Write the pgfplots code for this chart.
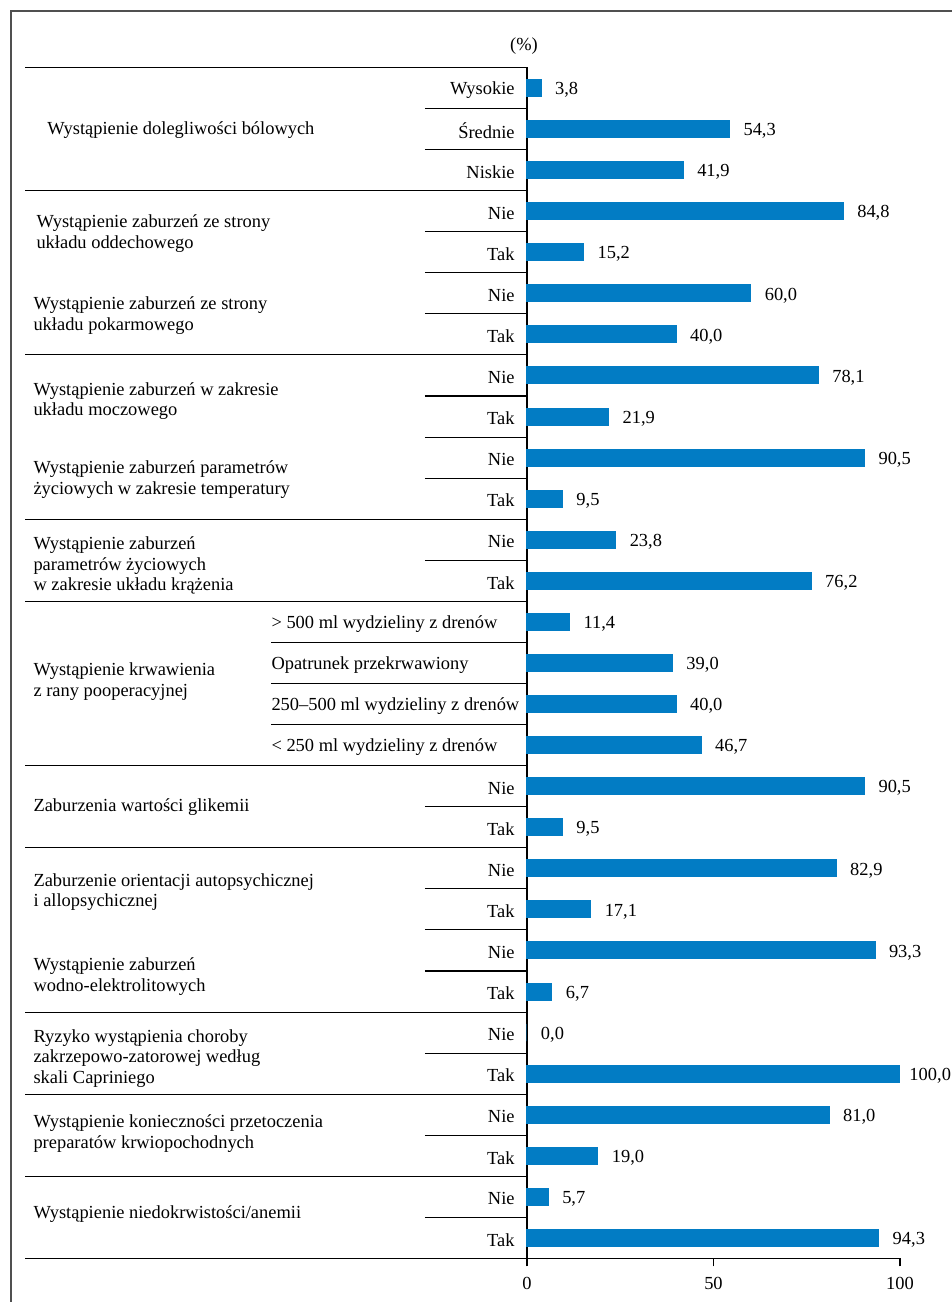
\documentclass[border=0pt]{standalone}
\usepackage{fontspec}
\setmainfont{Liberation Serif}
\usepackage{pgfplots}
\usepackage{pgfplotstable}
\pgfplotsset{compat=1.18}
\definecolor{barblue}{RGB}{2,124,196}
\definecolor{framegray}{RGB}{80,80,80}

\pgfplotstableread{
row val dx
0 3.8 6.75
1 54.3 6.75
2 41.9 6.75
3 84.8 6.75
4 15.2 6.75
5 60.0 6.75
6 40.0 6.75
7 78.1 6.75
8 21.9 6.75
9 90.5 6.75
10 9.5 6.75
11 23.8 6.75
12 76.2 6.75
13 11.4 6.75
14 39.0 6.75
15 40.0 6.75
16 46.7 6.75
17 90.5 6.75
18 9.5 6.75
19 82.9 6.75
20 17.1 6.75
21 93.3 6.75
22 6.7 6.75
23 0.0 6.75
24 100.0 4.5
25 81.0 6.75
26 19.0 6.75
27 5.7 6.75
28 94.3 6.75
}\datatable

\begin{document}
\begin{tikzpicture}[font=\fontsize{9.25pt}{10.3pt}\selectfont]
\begin{axis}[
  scale only axis, width=186.5bp, height=595.5bp,
  xmin=0, xmax=100, ymin=-28.5, ymax=0.5,
  xbar, bar width=8.5bp,
  axis x line*=bottom, axis y line*=left,
  axis line style={-, black, line width=0.55bp},
  ytick=\empty, xtick={0,50,100},
  tick align=outside, major tick length=4bp,
  tick style={black, line width=0.55bp},
  /pgf/number format/assume math mode=true,
  xticklabel style={yshift=-2bp},
  clip=false,
  point meta=x,
  visualization depends on={\thisrow{dx} \as \dx},
  nodes near coords={\pgfmathprintnumber[fixed,fixed zerofill,precision=1,use comma,assume math mode=true]{\pgfplotspointmeta}},
  nodes near coords style={anchor=west, inner sep=0pt, xshift=\dx bp, yshift=-1bp, black},
]
\addplot[fill=barblue, draw=barblue, line width=0.5bp] table[x=val, y expr=-\thisrow{row}] {\datatable};

% frame
\draw[framegray, line width=1bp] (axis cs:-138.34,-30) -- (axis cs:-138.34,1.875) -- (axis cs:120,1.875);

% long separators
\pgfplotsinvokeforeach{0.5,-2.5,-6.5,-10.5,-12.5,-16.5,-18.5,-22.5,-24.5,-26.5,-28.5}{
  \draw[black, line width=0.55bp] (axis cs:-134.58,#1) -- (axis cs:0,#1);
}
% short separators
\pgfplotsinvokeforeach{-0.5,-1.5,-3.5,-4.5,-5.5,-7.5,-8.5,-9.5,-11.5,-17.5,-19.5,-20.5,-21.5,-23.5,-25.5,-27.5}{
  \draw[black, line width=0.55bp] (axis cs:-27.35,#1) -- (axis cs:0,#1);
}
% bleeding separators
\pgfplotsinvokeforeach{-13.5,-14.5,-15.5}{
  \draw[black, line width=0.55bp] (axis cs:-68.6,#1) -- (axis cs:0,#1);
}

% unit
\node[yshift=-1bp] at (axis cs:-0.8,1.071) {(\%)};

% sub labels
\begin{scope}[every node/.style={anchor=east, inner sep=0pt, yshift=-1bp}]
\node at (axis cs:-3.22,0) {Wysokie};
\node at (axis cs:-3.22,-1) {Średnie};
\node at (axis cs:-3.22,-2) {Niskie};
\node at (axis cs:-3.22,-3) {Nie};
\node at (axis cs:-3.22,-4) {Tak};
\node at (axis cs:-3.22,-5) {Nie};
\node at (axis cs:-3.22,-6) {Tak};
\node at (axis cs:-3.22,-7) {Nie};
\node at (axis cs:-3.22,-8) {Tak};
\node at (axis cs:-3.22,-9) {Nie};
\node at (axis cs:-3.22,-10) {Tak};
\node at (axis cs:-3.22,-11) {Nie};
\node at (axis cs:-3.22,-12) {Tak};
\node at (axis cs:-3.22,-17) {Nie};
\node at (axis cs:-3.22,-18) {Tak};
\node at (axis cs:-3.22,-19) {Nie};
\node at (axis cs:-3.22,-20) {Tak};
\node at (axis cs:-3.22,-21) {Nie};
\node at (axis cs:-3.22,-22) {Tak};
\node at (axis cs:-3.22,-23) {Nie};
\node at (axis cs:-3.22,-24) {Tak};
\node at (axis cs:-3.22,-25) {Nie};
\node at (axis cs:-3.22,-26) {Tak};
\node at (axis cs:-3.22,-27) {Nie};
\node at (axis cs:-3.22,-28) {Tak};
\end{scope}

\begin{scope}[every node/.style={anchor=west, inner sep=0pt, yshift=-1bp}]
\node at (axis cs:-68.6,-13) {> 500 ml wydzieliny z drenów};
\node at (axis cs:-68.6,-14) {Opatrunek przekrwawiony};
\node at (axis cs:-68.6,-15) {250–500 ml wydzieliny z drenów};
\node at (axis cs:-68.6,-16) {< 250 ml wydzieliny z drenów};
\end{scope}

% group labels
\begin{scope}[every node/.style={anchor=west, inner sep=0pt, align=left, yshift=-1bp}]
\node at (axis cs:-128.7,-0.97) {Wystąpienie dolegliwości bólowych};
\node at (axis cs:-131.6,-3.49) {Wystąpienie zaburzeń ze strony\\układu oddechowego};
\node at (axis cs:-132.4,-5.49) {Wystąpienie zaburzeń ze strony\\układu pokarmowego};
\node at (axis cs:-132.4,-7.58) {Wystąpienie zaburzeń w zakresie\\układu moczowego};
\node at (axis cs:-132.4,-9.48) {Wystąpienie zaburzeń parametrów\\życiowych w zakresie temperatury};
\node at (axis cs:-132.4,-11.58) {Wystąpienie zaburzeń\\parametrów życiowych\\w zakresie układu krążenia};
\node at (axis cs:-132.4,-14.40) {Wystąpienie krwawienia\\z rany pooperacyjnej};
\node at (axis cs:-132.4,-17.46) {Zaburzenia wartości glikemii};
\node at (axis cs:-132.4,-19.53) {Zaburzenie orientacji autopsychicznej\\i allopsychicznej};
\node at (axis cs:-132.4,-21.59) {Wystąpienie zaburzeń\\wodno-elektrolitowych};
\node at (axis cs:-132.4,-23.58) {Ryzyko wystąpienia choroby\\zakrzepowo-zatorowej według\\skali Capriniego};
\node at (axis cs:-132.4,-25.41) {Wystąpienie konieczności przetoczenia\\preparatów krwiopochodnych};
\node at (axis cs:-132.4,-27.37) {Wystąpienie niedokrwistości/anemii};
\end{scope}

\coordinate (bbA) at (axis cs:-141.287,2.1427);
\coordinate (bbB) at (axis cs:113.94,-29.56);
\end{axis}
\pgfresetboundingbox
\path[use as bounding box] (bbA) rectangle (bbB);
\end{tikzpicture}
\end{document}
